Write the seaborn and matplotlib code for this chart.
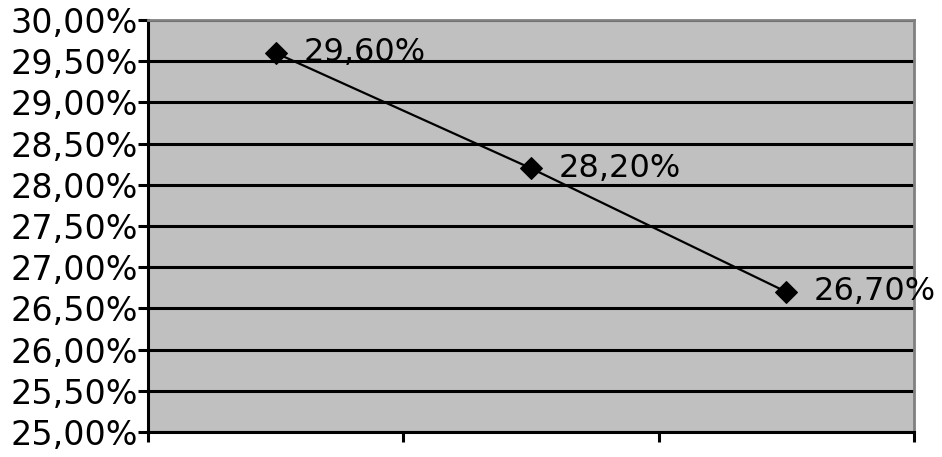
import matplotlib
matplotlib.use("Agg")
import matplotlib.pyplot as plt
import seaborn as sns
import pandas as pd
from matplotlib.ticker import FuncFormatter, MultipleLocator, FixedLocator

categories = ["1", "2", "3"]
values = [29.60, 28.20, 26.70]

df = pd.DataFrame({"x": range(len(categories)), "y": values})

sns.set_style("white")
plt.rcParams["font.family"] = ["DejaVu Sans"]
plt.rcParams["text.color"] = "black"
plt.rcParams["ytick.color"] = "black"
plt.rcParams["ytick.labelcolor"] = "black"

fig = plt.figure(figsize=(9.42, 4.57), dpi=100)
ax = fig.add_axes([148 / 942, 25 / 457, 766 / 942, 412 / 457])
ax.set_facecolor("#c0c0c0")

sns.lineplot(data=df, x="x", y="y", ax=ax, color="black", linewidth=1.6,
             marker="D", markersize=11, markeredgecolor="black")

for x, y in zip(df["x"], df["y"]):
    ax.annotate(f"{y:.2f}%".replace(".", ","), (x, y), xytext=(20, 0),
                textcoords="offset points", va="center", ha="left",
                fontsize=23, color="black", annotation_clip=False, clip_on=False)

ax.set_xlim(-0.5, len(categories) - 0.5)
ax.set_ylim(25, 30)
ax.yaxis.set_major_locator(MultipleLocator(0.5))
ax.yaxis.set_major_formatter(FuncFormatter(lambda v, p: f"{v:.2f}%".replace(".", ",")))
ax.xaxis.set_major_locator(FixedLocator([i - 0.5 for i in range(len(categories) + 1)]))
ax.set_xticklabels([])
ax.yaxis.grid(True, color="black", linewidth=2.2)
ax.set_axisbelow(True)
ax.set_xlabel("")
ax.set_ylabel("")

ax.tick_params(axis="y", labelsize=24, labelcolor="black", length=7, width=2.2,
               color="black", pad=0, left=True)
ax.tick_params(axis="x", length=7, width=2.2, color="black", bottom=True)
for s in ["left", "bottom"]:
    ax.spines[s].set_color("black")
    ax.spines[s].set_linewidth(2.2)
for s in ["top", "right"]:
    ax.spines[s].set_color("#808080")
    ax.spines[s].set_linewidth(2)

fig.savefig("out.png", dpi=100)
